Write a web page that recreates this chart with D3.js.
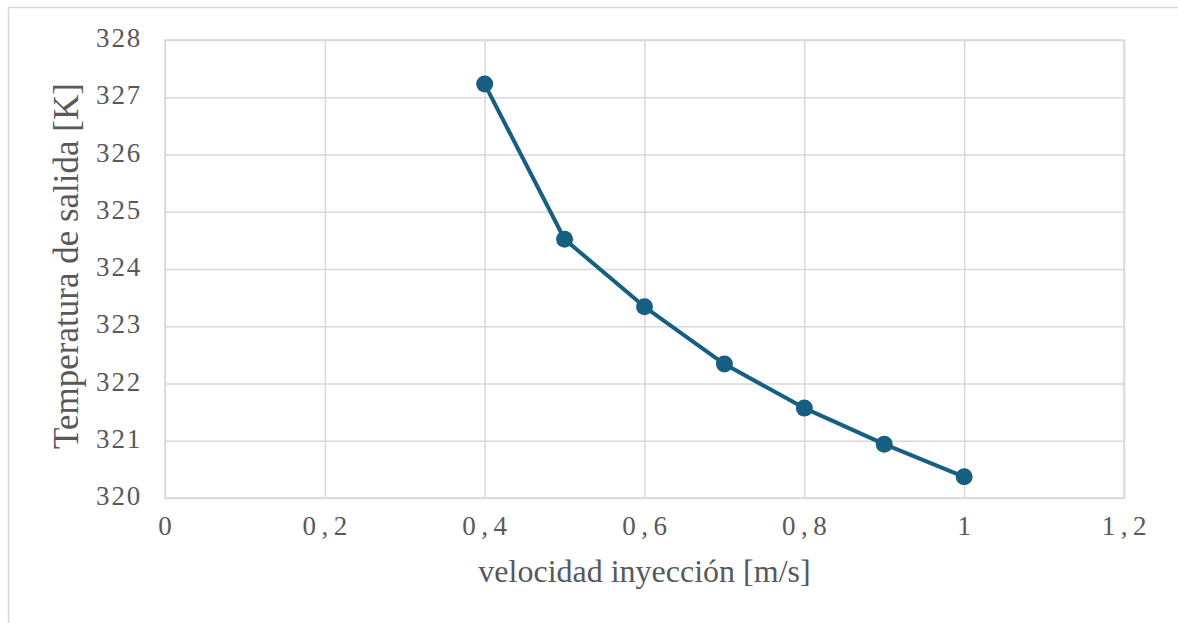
<!DOCTYPE html>
<html><head><meta charset="utf-8">
<script src="https://cdn.jsdelivr.net/npm/d3@7"></script>
<style>body{margin:0;background:#fff}svg{display:block}</style>
</head><body><svg id="c" width="1178" height="623"></svg>
<script>
const velocity = [0.4, 0.5, 0.6, 0.7, 0.8, 0.9, 1.0];
const temperature = [327.23, 324.52, 323.34, 322.34, 321.57, 320.94, 320.37];
const xTicks = [0, 0.2, 0.4, 0.6, 0.8, 1.0, 1.2];
const yTicks = [320, 321, 322, 323, 324, 325, 326, 327, 328];
const xTitle = "velocidad inyección [m/s]";
const yTitle = "Temperatura de salida [K]";

const svg = d3.select("#c");
const m = {l:165, r:1124, t:40, b:498};
const x = d3.scaleLinear().domain([0, 1.2]).range([m.l, m.r]);
const y = d3.scaleLinear().domain([320, 328]).range([m.b, m.t]);
const font = "'Liberation Serif','Times New Roman',serif";
const txt = "#595959";

svg.append("rect").attr("x",8.5).attr("y",7.5).attr("width",1200).attr("height",700)
  .attr("fill","#fff").attr("stroke","#d9d9d9").attr("stroke-width",1.5);

// gridlines
const xg = svg.append("g").attr("transform",`translate(0,${m.b})`)
  .call(d3.axisBottom(x).tickValues(xTicks).tickSize(-(m.b-m.t)).tickFormat(""));
const yg = svg.append("g").attr("transform",`translate(${m.l},0)`)
  .call(d3.axisLeft(y).tickValues(yTicks).tickSize(-(m.r-m.l)).tickFormat(""));
[xg,yg].forEach(g=>{g.select(".domain").remove();
  g.selectAll("line").attr("stroke","#d9d9d9").attr("stroke-width",1.5);});
svg.append("rect").attr("x",m.l).attr("y",m.t).attr("width",m.r-m.l).attr("height",m.b-m.t)
  .attr("fill","none").attr("stroke","#d9d9d9").attr("stroke-width",1.5);

// tick labels
const fmt = d => d3.format("~g")(d).replace(".", ",");
svg.append("g").selectAll("text").data(xTicks).join("text")
  .attr("x",d=>x(d)).attr("y",535)
  .attr("text-anchor","middle").attr("font-family",font).attr("font-size",27)
  .attr("fill",txt).attr("letter-spacing",d=>d%1?"5.5px":"0px")
  .attr("dx",d=>d%1?2.75:0)
  .text(fmt);
svg.append("g").selectAll("text").data(yTicks).join("text")
  .attr("x",142).attr("y",d=>y(d)+7)
  .attr("text-anchor","end").attr("font-family",font).attr("font-size",27)
  .attr("fill",txt).attr("letter-spacing","1.8px")
  .text(d=>d);

// titles
svg.append("text").attr("x",(m.l+m.r)/2).attr("y",582).attr("text-anchor","middle")
  .attr("font-family",font).attr("font-size",32).attr("fill",txt).text(xTitle);
svg.append("text").attr("transform",`translate(78,266) rotate(-90)`)
  .attr("text-anchor","middle").attr("font-family",font).attr("font-size",35)
  .attr("fill",txt).text(yTitle);

// series
const col = "#165e82";
const pts = velocity.map((v,i)=>[v, temperature[i]]);
svg.append("path").datum(pts)
  .attr("d", d3.line().x(d=>x(d[0])).y(d=>y(d[1])))
  .attr("fill","none").attr("stroke",col).attr("stroke-width",4).attr("stroke-linejoin","round");
svg.append("g").selectAll("circle").data(pts).join("circle")
  .attr("cx",d=>x(d[0])).attr("cy",d=>y(d[1])).attr("r",8.5).attr("fill",col);
</script></body></html>
